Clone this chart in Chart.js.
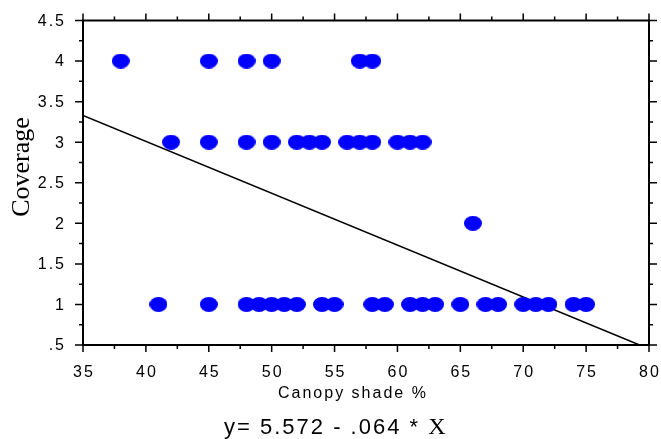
<!DOCTYPE html>
<html>
<head>
<meta charset="utf-8">
<script src="https://cdn.jsdelivr.net/npm/chart.js@4.4.1/dist/chart.umd.min.js"></script>
<style>
  html, body { margin: 0; padding: 0; background: #fff; }
  #wrap { width: 661px; height: 439px; }
</style>
</head>
<body>
<div id="wrap"><canvas id="chart" width="661" height="439"></canvas></div>
<script>
// canopy shade % and coverage score
const shadeX = [
  38, 45, 48, 50, 57, 58,
  42, 45, 48, 50, 52, 53, 54, 56, 57, 58, 60, 61, 62,
  66,
  41, 45, 48, 49, 50, 51, 52, 54, 55, 58, 59, 61, 62, 63, 65, 67, 68, 70, 71, 72, 74, 75
];
const coverageY = [
  4, 4, 4, 4, 4, 4,
  3, 3, 3, 3, 3, 3, 3, 3, 3, 3, 3, 3, 3,
  2,
  1, 1, 1, 1, 1, 1, 1, 1, 1, 1, 1, 1, 1, 1, 1, 1, 1, 1, 1, 1, 1, 1
];
// fitted line y = 5.572 - .064 * X, ends where it leaves the frame
const fitX = [35, 79.25];
const fitY = [3.33, 0.5];

const xTicks = [35, 40, 45, 50, 55, 60, 65, 70, 75, 80];
const xTickLabels = ["35", "40", "45", "50", "55", "60", "65", "70", "75", "80"];
const yTicks = [4.5, 4, 3.5, 3, 2.5, 2, 1.5, 1, 0.5];
const yTickLabels = ["4.5", "4", "3.5", "3", "2.5", "2", "1.5", "1", ".5"];

const xTitle = "Canopy shade %";
const yTitle = "Coverage";
const equation = "y= 5.572 - .064 * ";
const equationVar = "X";

// oval dot like the original
const dot = document.createElement("canvas");
dot.width = 18;
dot.height = 15;
{
  const c = dot.getContext("2d");
  c.fillStyle = "#0000ff";
  c.beginPath();
  c.ellipse(9, 7.5, 9, 7.5, 0, 0, Math.PI * 2);
  c.fill();
}

const SANS = '"Liberation Sans", Arial, sans-serif';
const SERIF = '"Liberation Serif", "Times New Roman", serif';

const frame = {
  id: "frame",
  afterDatasetsDraw(chart) {
    const ctx = chart.ctx;
    const a = chart.chartArea;
    const xs = chart.scales.x;
    const ys = chart.scales.y;
    ctx.save();
    ctx.strokeStyle = "#000";
    ctx.lineWidth = 2;
    ctx.beginPath();
    ctx.rect(a.left, a.top, a.right - a.left, a.bottom - a.top);
    ctx.stroke();

    ctx.lineWidth = 1.5;
    ctx.beginPath();
    for (let v = 35; v <= 80; v += 2.5) {
      const p = xs.getPixelForValue(v);
      const len = v % 5 === 0 ? 7 : 4;
      ctx.moveTo(p, a.bottom);
      ctx.lineTo(p, a.bottom + len);
      ctx.moveTo(p, a.top);
      ctx.lineTo(p, a.top - len);
    }
    for (let v = 0.5; v <= 4.5; v += 0.25) {
      const p = ys.getPixelForValue(v);
      const len = Math.abs(v * 2 - Math.round(v * 2)) < 1e-6 ? 8 : 4;
      ctx.moveTo(a.left, p);
      ctx.lineTo(a.left - len, p);
      ctx.moveTo(a.right, p);
      ctx.lineTo(a.right + len, p);
    }
    ctx.stroke();

    ctx.fillStyle = "#000";
    ctx.letterSpacing = "2px";
    ctx.font = "16px " + SANS;
    ctx.textBaseline = "middle";
    ctx.textAlign = "right";
    yTicks.forEach((v, i) => {
      ctx.fillText(yTickLabels[i], a.left - 17, ys.getPixelForValue(v) + 1);
    });
    ctx.textAlign = "center";
    ctx.textBaseline = "alphabetic";
    xTicks.forEach((v, i) => {
      ctx.fillText(xTickLabels[i], xs.getPixelForValue(v) + 1, 377);
    });

    ctx.textAlign = "left";
    ctx.fillText(xTitle, 278, 398);

    ctx.font = "22px " + SANS;
    ctx.letterSpacing = "2px";
    ctx.fillText(equation, 224, 434);
    const w = ctx.measureText(equation).width;
    ctx.letterSpacing = "0px";
    ctx.font = "24px " + SERIF;
    ctx.fillText(equationVar, 224 + w, 434);

    ctx.translate(29, 167);
    ctx.rotate(-Math.PI / 2);
    ctx.textAlign = "center";
    ctx.font = "26px " + SERIF;
    ctx.fillText(yTitle, 0, 0);
    ctx.restore();
  }
};

new Chart(document.getElementById("chart"), {
  type: "scatter",
  data: {
    datasets: [
      {
        label: "points",
        data: shadeX.map((x, i) => ({ x: x, y: coverageY[i] })),
        pointStyle: dot,
        pointRadius: 8,
        pointHoverRadius: 8
      },
      {
        type: "line",
        label: "fit",
        data: fitX.map((x, i) => ({ x: x, y: fitY[i] })),
        borderColor: "#000",
        borderWidth: 1.5,
        pointRadius: 0,
        fill: false
      }
    ]
  },
  options: {
    responsive: false,
    animation: false,
    events: [],
    layout: { padding: { top: 20.5, right: 12, left: 0, bottom: 0 } },
    plugins: { legend: { display: false }, tooltip: { enabled: false } },
    scales: {
      x: {
        type: "linear",
        min: 35,
        max: 80,
        ticks: { display: false },
        grid: { display: false },
        border: { display: false },
        afterFit: (s) => { s.height = 94; }
      },
      y: {
        type: "linear",
        min: 0.5,
        max: 4.5,
        ticks: { display: false },
        grid: { display: false },
        border: { display: false },
        afterFit: (s) => { s.width = 83; }
      }
    }
  },
  plugins: [frame]
});
</script>
</body>
</html>
